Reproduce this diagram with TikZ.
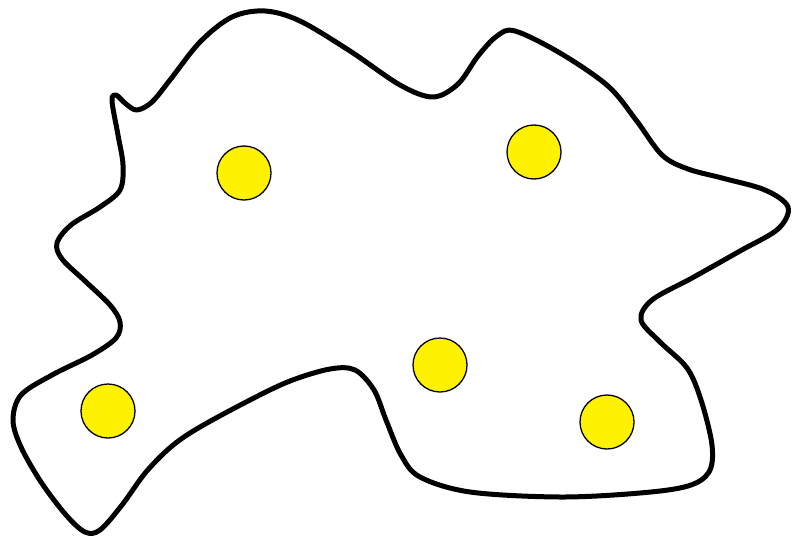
\documentclass[tikz,border=0pt]{standalone}
\begin{document}
\begin{tikzpicture}[x=1pt,y=-1pt,
  blob/.style={line width=5pt,line join=round},
  dot/.style={circle,draw=black,fill=yellow,line width=1.3pt,minimum size=54pt,inner sep=0pt}]
\useasboundingbox (0,0) rectangle (792,538);
\draw[blob] plot[smooth cycle,tension=0.55] coordinates {
(118,135) (112,101) (116,95) (126,104) (137,110) (152,102) (170,80) (200,42) (232,17) (265,11) (300,21) (350,51) (400,85) (433,97) (458,84) (478,56) (497,36) (515,31) (560,53) (608,86) (636,120) (662,155) (688,169) (722,178) (765,190) (788,207) (778,229) (740,251) (692,278) (652,300) (641,320) (660,342) (687,368) (701,400) (712,445) (709,472) (688,486) (640,493) (560,497) (470,492) (420,477) (401,455) (386,420) (374,390) (355,370) (330,369) (290,381) (250,400) (200,427) (172,446) (146,472) (122,505) (100,530) (85,532) (66,515) (41,482) (21,447) (13,420) (21,395) (52,375) (92,355) (116,338) (120,322) (110,305) (85,281) (62,259) (57,243) (71,225) (100,207) (120,190) (123,165)};
\node[dot] (c1) at (244,173) {};
\node[dot] (c2) at (534,152) {};
\node[dot] (c3) at (440,365) {};
\node[dot] (c4) at (108,411) {};
\node[dot] (c5) at (607,422) {};
\end{tikzpicture}
\end{document}
